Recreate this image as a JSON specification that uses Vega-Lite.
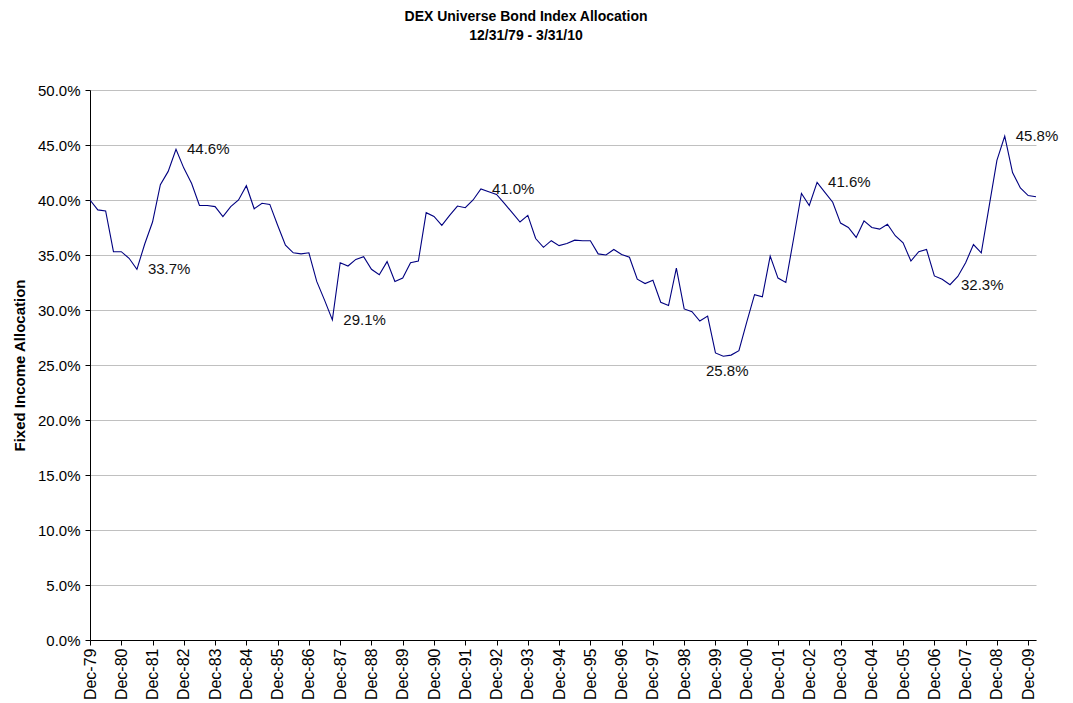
{
  "$schema": "https://vega.github.io/schema/vega-lite/v6.json",
  "width": 946,
  "height": 550,
  "autosize": {"type": "none"},
  "padding": {"left": 90, "top": 90, "right": 37, "bottom": 63},
  "background": "white",
  "title": {
    "text": "DEX Universe Bond Index Allocation",
    "subtitle": "12/31/79 - 3/31/10",
    "anchor": "middle",
    "dx": -37,
    "offset": 40,
    "font": "Liberation Sans",
    "fontSize": 14,
    "fontWeight": "bold",
    "color": "#000000",
    "subtitleFont": "Liberation Sans",
    "subtitleFontSize": 14,
    "subtitleFontWeight": "bold",
    "subtitleColor": "#000000",
    "subtitlePadding": 5
  },
  "config": {
    "view": {"stroke": null},
    "font": "Liberation Sans"
  },
  "data": {
    "values": [
      {"q": "Dec-79", "v": 0.400},
      {"q": "Mar-80", "v": 0.391},
      {"q": "Jun-80", "v": 0.390},
      {"q": "Sep-80", "v": 0.353},
      {"q": "Dec-80", "v": 0.353},
      {"q": "Mar-81", "v": 0.347},
      {"q": "Jun-81", "v": 0.337, "lab": "33.7%"},
      {"q": "Sep-81", "v": 0.360},
      {"q": "Dec-81", "v": 0.380},
      {"q": "Mar-82", "v": 0.414},
      {"q": "Jun-82", "v": 0.426},
      {"q": "Sep-82", "v": 0.446, "lab": "44.6%"},
      {"q": "Dec-82", "v": 0.429},
      {"q": "Mar-83", "v": 0.415},
      {"q": "Jun-83", "v": 0.395},
      {"q": "Sep-83", "v": 0.395},
      {"q": "Dec-83", "v": 0.394},
      {"q": "Mar-84", "v": 0.385},
      {"q": "Jun-84", "v": 0.394},
      {"q": "Sep-84", "v": 0.400},
      {"q": "Dec-84", "v": 0.413},
      {"q": "Mar-85", "v": 0.392},
      {"q": "Jun-85", "v": 0.397},
      {"q": "Sep-85", "v": 0.396},
      {"q": "Dec-85", "v": 0.377},
      {"q": "Mar-86", "v": 0.359},
      {"q": "Jun-86", "v": 0.352},
      {"q": "Sep-86", "v": 0.351},
      {"q": "Dec-86", "v": 0.352},
      {"q": "Mar-87", "v": 0.326},
      {"q": "Jun-87", "v": 0.309},
      {"q": "Sep-87", "v": 0.291, "lab": "29.1%"},
      {"q": "Dec-87", "v": 0.343},
      {"q": "Mar-88", "v": 0.340},
      {"q": "Jun-88", "v": 0.346},
      {"q": "Sep-88", "v": 0.3485},
      {"q": "Dec-88", "v": 0.337},
      {"q": "Mar-89", "v": 0.332},
      {"q": "Jun-89", "v": 0.344},
      {"q": "Sep-89", "v": 0.326},
      {"q": "Dec-89", "v": 0.329},
      {"q": "Mar-90", "v": 0.343},
      {"q": "Jun-90", "v": 0.3445},
      {"q": "Sep-90", "v": 0.3885},
      {"q": "Dec-90", "v": 0.385},
      {"q": "Mar-91", "v": 0.377},
      {"q": "Jun-91", "v": 0.386},
      {"q": "Sep-91", "v": 0.3945},
      {"q": "Dec-91", "v": 0.393},
      {"q": "Mar-92", "v": 0.400},
      {"q": "Jun-92", "v": 0.410, "lab": "41.0%"},
      {"q": "Sep-92", "v": 0.4075},
      {"q": "Dec-92", "v": 0.405},
      {"q": "Mar-93", "v": 0.397},
      {"q": "Jun-93", "v": 0.3885},
      {"q": "Sep-93", "v": 0.380},
      {"q": "Dec-93", "v": 0.386},
      {"q": "Mar-94", "v": 0.365},
      {"q": "Jun-94", "v": 0.357},
      {"q": "Sep-94", "v": 0.363},
      {"q": "Dec-94", "v": 0.3585},
      {"q": "Mar-95", "v": 0.3605},
      {"q": "Jun-95", "v": 0.3635},
      {"q": "Sep-95", "v": 0.363},
      {"q": "Dec-95", "v": 0.363},
      {"q": "Mar-96", "v": 0.351},
      {"q": "Jun-96", "v": 0.350},
      {"q": "Sep-96", "v": 0.355},
      {"q": "Dec-96", "v": 0.3505},
      {"q": "Mar-97", "v": 0.348},
      {"q": "Jun-97", "v": 0.328},
      {"q": "Sep-97", "v": 0.324},
      {"q": "Dec-97", "v": 0.327},
      {"q": "Mar-98", "v": 0.307},
      {"q": "Jun-98", "v": 0.304},
      {"q": "Sep-98", "v": 0.338},
      {"q": "Dec-98", "v": 0.301},
      {"q": "Mar-99", "v": 0.2985},
      {"q": "Jun-99", "v": 0.290},
      {"q": "Sep-99", "v": 0.2945},
      {"q": "Dec-99", "v": 0.261},
      {"q": "Mar-00", "v": 0.258, "lab": "25.8%"},
      {"q": "Jun-00", "v": 0.259},
      {"q": "Sep-00", "v": 0.263},
      {"q": "Dec-00", "v": 0.289},
      {"q": "Mar-01", "v": 0.314},
      {"q": "Jun-01", "v": 0.312},
      {"q": "Sep-01", "v": 0.349},
      {"q": "Dec-01", "v": 0.329},
      {"q": "Mar-02", "v": 0.325},
      {"q": "Jun-02", "v": 0.365},
      {"q": "Sep-02", "v": 0.406},
      {"q": "Dec-02", "v": 0.395},
      {"q": "Mar-03", "v": 0.416, "lab": "41.6%"},
      {"q": "Jun-03", "v": 0.407},
      {"q": "Sep-03", "v": 0.398},
      {"q": "Dec-03", "v": 0.379},
      {"q": "Mar-04", "v": 0.375},
      {"q": "Jun-04", "v": 0.366},
      {"q": "Sep-04", "v": 0.381},
      {"q": "Dec-04", "v": 0.375},
      {"q": "Mar-05", "v": 0.3735},
      {"q": "Jun-05", "v": 0.378},
      {"q": "Sep-05", "v": 0.3675},
      {"q": "Dec-05", "v": 0.361},
      {"q": "Mar-06", "v": 0.3445},
      {"q": "Jun-06", "v": 0.353},
      {"q": "Sep-06", "v": 0.355},
      {"q": "Dec-06", "v": 0.331},
      {"q": "Mar-07", "v": 0.328},
      {"q": "Jun-07", "v": 0.323, "lab": "32.3%"},
      {"q": "Sep-07", "v": 0.3305},
      {"q": "Dec-07", "v": 0.343},
      {"q": "Mar-08", "v": 0.3595},
      {"q": "Jun-08", "v": 0.352},
      {"q": "Sep-08", "v": 0.394},
      {"q": "Dec-08", "v": 0.436},
      {"q": "Mar-09", "v": 0.458, "lab": "45.8%"},
      {"q": "Jun-09", "v": 0.425},
      {"q": "Sep-09", "v": 0.411},
      {"q": "Dec-09", "v": 0.404},
      {"q": "Mar-10", "v": 0.403}
    ]
  },
  "encoding": {
    "x": {
      "field": "q",
      "type": "ordinal",
      "sort": null,
      "scale": {"type": "point", "padding": 0},
      "axis": {
        "title": null,
        "values": ["Dec-79","Dec-80","Dec-81","Dec-82","Dec-83","Dec-84","Dec-85","Dec-86","Dec-87","Dec-88","Dec-89","Dec-90","Dec-91","Dec-92","Dec-93","Dec-94","Dec-95","Dec-96","Dec-97","Dec-98","Dec-99","Dec-00","Dec-01","Dec-02","Dec-03","Dec-04","Dec-05","Dec-06","Dec-07","Dec-08","Dec-09"],
        "labelAngle": -90,
        "labelFontSize": 16,
        "labelColor": "#000000",
        "labelPadding": 3,
        "tickSize": 5,
        "tickColor": "#000000",
        "domainColor": "#000000",
        "grid": false
      }
    },
    "y": {
      "field": "v",
      "type": "quantitative",
      "scale": {"domain": [0, 0.5]},
      "axis": {
        "title": "Fixed Income Allocation",
        "titleFontSize": 15,
        "titleFontWeight": "bold",
        "titleColor": "#000000",
        "titlePadding": 10,
        "values": [0, 0.05, 0.1, 0.15, 0.2, 0.25, 0.3, 0.35, 0.4, 0.45, 0.5],
        "format": ".1%",
        "labelFontSize": 15,
        "labelColor": "#000000",
        "labelPadding": 5,
        "tickSize": 5,
        "tickColor": "#000000",
        "domainColor": "#000000",
        "grid": true,
        "gridColor": "#c0c0c0"
      }
    }
  },
  "layer": [
    {
      "mark": {"type": "line", "color": "#000080", "strokeWidth": 1.1}
    },
    {
      "transform": [{"filter": "isValid(datum.lab) && datum.q != 'Mar-00'"}],
      "mark": {"type": "text", "align": "left", "baseline": "middle", "dx": 11, "fontSize": 15, "color": "#111111"},
      "encoding": {"text": {"field": "lab"}}
    },
    {
      "transform": [{"filter": "datum.q == 'Mar-00'"}],
      "mark": {"type": "text", "align": "center", "baseline": "top", "dx": 4, "dy": 8, "fontSize": 15, "color": "#111111"},
      "encoding": {"text": {"field": "lab"}}
    }
  ]
}
